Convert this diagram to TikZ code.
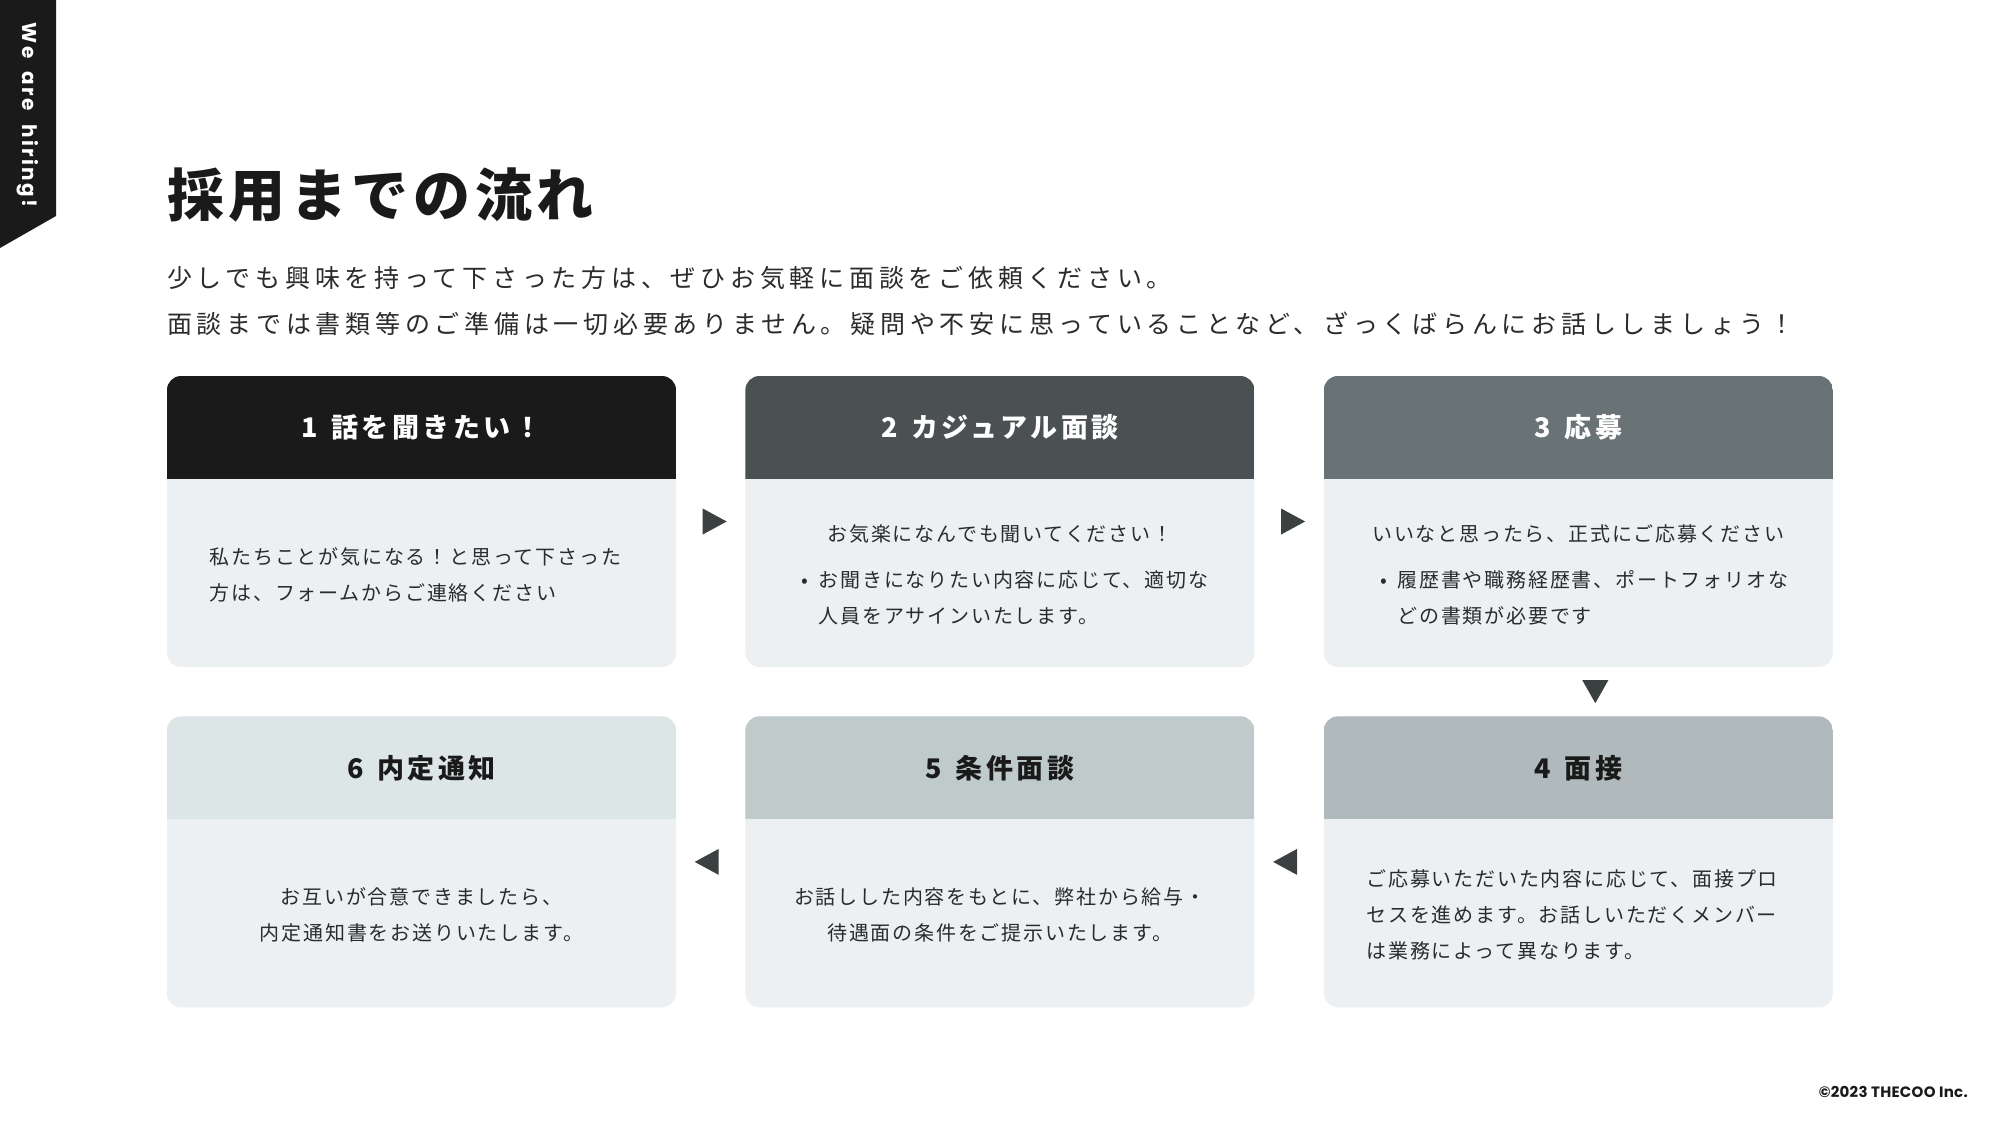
\documentclass[tikz,border=0pt]{standalone}
\usepackage{fontspec}
\setmainfont{Noto Sans CJK JP}
\newfontfamily\tagfont{Poppins}
\newfontfamily\tagwide{Poppins}[LetterSpace=12, WordSpace=2]
\usetikzlibrary{positioning, calc}

\definecolor{ink}{HTML}{1A1A1A}
\definecolor{txt}{HTML}{2B2B2B}
\definecolor{hdA}{HTML}{1A1A1A}
\definecolor{hdB}{HTML}{4B5153}
\definecolor{hdC}{HTML}{697275}
\definecolor{hdD}{HTML}{B0B9BB}
\definecolor{hdE}{HTML}{BFCBCB}
\definecolor{hdF}{HTML}{DCE6E7}
\definecolor{cardbg}{HTML}{EDF0F3}
\definecolor{tricol}{HTML}{3B4041}

\newcommand{\itemdot}{\makebox[17pt][l]{•}}

\begin{document}
\begin{tikzpicture}[
    x=1pt, y=-1pt,
    card/.style={
        fill=cardbg, rounded corners=14pt, inner sep=0pt,
        minimum width=509pt, minimum height=291pt,
        path picture={\fill[#1, sharp corners]
          (path picture bounding box.north west) rectangle
          ([yshift=-103pt]path picture bounding box.north east);}},
    hdtext/.style={inner sep=0pt,
        font=\fontsize{27}{30}\selectfont\bfseries\addfontfeatures{LetterSpace=13}},
    hdlight/.style={hdtext, text=white},
    hddark/.style={hdtext, text=ink},
    body/.style={inner sep=0pt, text=txt, align=center,
        font=\fontsize{20}{36}\selectfont\addfontfeatures{LetterSpace=9}},
    bodyl/.style={body, align=left},
    tri/.style={fill=tricol},
]

% ============================ page ======================================
\fill[white] (0,0) rectangle (2000,1125);
\useasboundingbox (0,0) rectangle (2000,1125);

% ============================ side tag ==================================
\fill[ink] (0,0) -- (56,0) -- (56,216) -- (0,248) -- cycle;
\node[rotate=-90, text=white, inner sep=0pt,
      font=\tagwide\fontsize{20}{22}\selectfont\bfseries]
  (tag) at (28,115) {We are hiring!};

% ============================ heading ===================================
\node[anchor=west, inner sep=0pt, text=ink,
      font=\fontsize{57}{60}\selectfont\bfseries\addfontfeatures{LetterSpace=8}]
  (title) at (167,195) {採用までの流れ};
\node[anchor=west, inner sep=0pt, text=txt, align=left,
      font=\fontsize{25}{46}\selectfont\addfontfeatures{LetterSpace=19}]
  (lead) at (167,301)
  {少しでも興味を持って下さった方は、ぜひお気軽に面談をご依頼ください。\\面談までは書類等のご準備は一切必要ありません。疑問や不安に思っていることなど、ざっくばらんにお話ししましょう！};

% ============================ steps =====================================
\node[card=hdA] (s1) at (421.5,521.5) {};
\node[card=hdB, right=69pt of s1] (s2) {};
\node[card=hdC, right=69pt of s2] (s3) {};
\node[card=hdD, below=49pt of s3] (s4) {};
\node[card=hdE, left=69pt of s4] (s5) {};
\node[card=hdF, left=69pt of s5] (s6) {};

\node[hdlight] (h1) at ([yshift=94pt]s1.center) {1\enspace 話を聞きたい！};
\node[hdlight] (h2) at ([yshift=94pt]s2.center) {2\enspace カジュアル面談};
\node[hdlight] (h3) at ([yshift=94pt]s3.center) {3\enspace 応募};
\node[hddark]  (h4) at ([yshift=94pt]s4.center) {4\enspace 面接};
\node[hddark]  (h5) at ([yshift=94pt]s5.center) {5\enspace 条件面談};
\node[hddark]  (h6) at ([yshift=94pt]s6.center) {6\enspace 内定通知};

\node[bodyl] (t1) at ([xshift=-6pt, yshift=-53pt]s1.center)
  {私たちことが気になる！と思って下さった\\方は、フォームからご連絡ください};
\node[body] (t2) at ([yshift=-12.5pt]s2.center) {お気楽になんでも聞いてください！};
\node[bodyl] (u2) at ([xshift=5pt, yshift=-76.5pt]s2.center)
  {\itemdot お聞きになりたい内容に応じて、適切な\\\hspace*{17pt}人員をアサインいたします。};
\node[body] (t3) at ([yshift=-12.5pt]s3.center) {いいなと思ったら、正式にご応募ください};
\node[bodyl] (u3) at ([xshift=6pt, yshift=-76.5pt]s3.center)
  {\itemdot 履歴書や職務経歴書、ポートフォリオな\\\hspace*{17pt}どの書類が必要です};
\node[bodyl] (t4) at ([xshift=-6pt, yshift=-53pt]s4.center)
  {ご応募いただいた内容に応じて、面接プロ\\セスを進めます。お話しいただくメンバー\\は業務によって異なります。};
\node[body] (t5) at ([yshift=-53pt]s5.center)
  {お話しした内容をもとに、弊社から給与・\\待遇面の条件をご提示いたします。};
\node[body] (t6) at ([yshift=-53pt]s6.center)
  {お互いが合意できましたら、\\内定通知書をお送りいたします。};

% ============================ flow marks ================================
\coordinate (m12) at ($(s1.east)!0.5!(s2.west)$);
\coordinate (m23) at ($(s2.east)!0.5!(s3.west)$);
\coordinate (m34) at ($(s3.south)!0.5!(s4.north)$);
\coordinate (m45) at ($(s4.west)!0.5!(s5.east)$);
\coordinate (m56) at ($(s5.west)!0.5!(s6.east)$);

\fill[tri] ([xshift=-8pt, yshift=13pt]m12) -- ++(24pt,-13pt) -- ++(-24pt,-13pt) -- cycle;
\fill[tri] ([xshift=-8pt, yshift=13pt]m23) -- ++(24pt,-13pt) -- ++(-24pt,-13pt) -- cycle;
\fill[tri] ([xshift=4pt, yshift=11.5pt]m34) -- ++(26pt,0pt) -- ++(-13pt,-23pt) -- cycle;
\fill[tri] ([xshift=8pt, yshift=13pt]m45) -- ++(-24pt,-13pt) -- ++(24pt,-13pt) -- cycle;
\fill[tri] ([xshift=8pt, yshift=13pt]m56) -- ++(-24pt,-13pt) -- ++(24pt,-13pt) -- cycle;

% ============================ footer ====================================
\node[anchor=east, inner sep=0pt, text=ink,
      font=\tagfont\fontsize{15}{16}\selectfont\bfseries\addfontfeatures{LetterSpace=2}]
  (copy) at (1968,1092) {©2023 THECOO Inc.};

\end{tikzpicture}
\end{document}
